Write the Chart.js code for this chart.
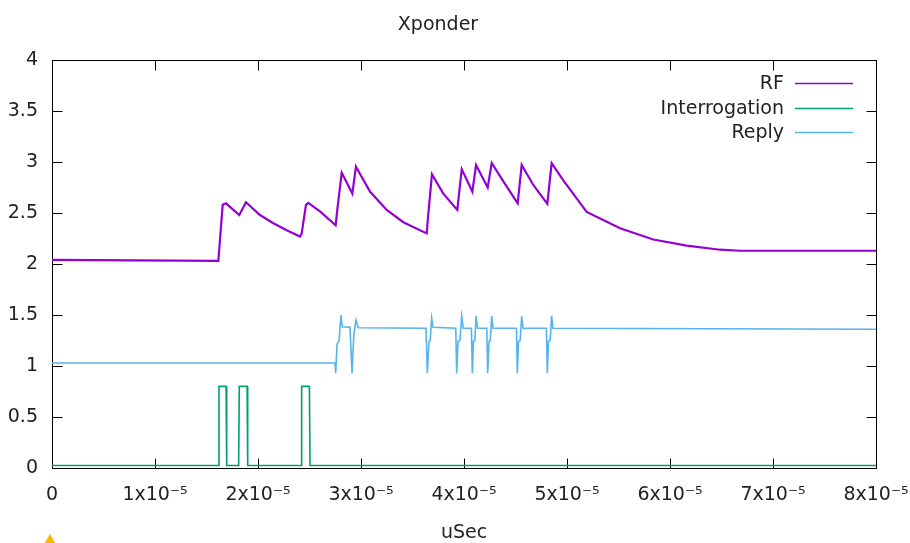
<!DOCTYPE html>
<html>
<head>
<meta charset="utf-8">
<title>Xponder</title>
<script src="https://cdn.jsdelivr.net/npm/chart.js@4.4.1/dist/chart.umd.min.js"></script>
<style>
html,body{margin:0;padding:0;background:#fff;}
#wrap{position:relative;width:910px;height:543px;overflow:hidden;}
#warn{position:absolute;left:43px;top:534px;width:0;height:0;border-left:7px solid transparent;border-right:7px solid transparent;border-bottom:12px solid #f7b900;}
</style>
</head>
<body>
<div id="wrap"><canvas id="c" width="910" height="543"></canvas><div id="warn"></div></div>
<script>
// time values are in units of 1e-5 s
const X_UNIT = 1e-5;
const xTicks = [0,1,2,3,4,5,6,7,8];
const xTickLabels = ['0','1x10\u207B\u2075','2x10\u207B\u2075','3x10\u207B\u2075','4x10\u207B\u2075','5x10\u207B\u2075','6x10\u207B\u2075','7x10\u207B\u2075','8x10\u207B\u2075'];
const yTicks = [0,0.5,1,1.5,2,2.5,3,3.5,4];
const yTickLabels = ['0','0.5','1','1.5','2','2.5','3','3.5','4'];
const seriesNames = ['RF','Interrogation','Reply'];
const seriesColors = ['#9400d3','#009e73','#56b4e9'];

const rf = [
  [0,2.04],[1.615,2.03],[1.657,2.58],[1.689,2.595],[1.818,2.48],[1.883,2.605],
  [2.019,2.48],[2.149,2.40],[2.279,2.33],[2.408,2.27],[2.424,2.30],[2.466,2.58],[2.488,2.60],
  [2.602,2.515],[2.754,2.38],[2.772,2.55],[2.813,2.895],[2.916,2.69],[2.951,2.955],
  [3.087,2.71],[3.250,2.53],[3.411,2.41],[3.638,2.30],[3.650,2.45],[3.689,2.88],
  [3.799,2.69],[3.935,2.53],[3.978,2.93],[4.081,2.71],[4.117,2.97],[4.230,2.75],[4.269,2.99],
  [4.382,2.81],[4.521,2.595],[4.560,2.97],[4.673,2.775],[4.809,2.59],[4.851,2.99],
  [4.964,2.82],[5.191,2.51],[5.515,2.35],[5.838,2.24],[6.162,2.18],[6.485,2.14],[6.68,2.13],[8,2.13]
];
const interrogation = [
  [0,0.025],[1.615,0.025],[1.621,0.80],[1.690,0.80],[1.696,0.025],
  [1.812,0.025],[1.818,0.80],[1.894,0.80],[1.900,0.025],
  [2.418,0.025],[2.424,0.80],[2.499,0.80],[2.505,0.025],[8,0.025]
];
const reply = [
  [0,1.03],[2.748,1.03],[2.754,0.93],[2.768,1.22],[2.786,1.24],[2.806,1.50],[2.818,1.385],
  [2.893,1.38],[2.913,0.93],[2.930,1.30],[2.951,1.45],[2.974,1.375],
  [3.631,1.37],[3.644,0.93],[3.660,1.24],[3.672,1.25],[3.686,1.47],[3.699,1.38],
  [3.920,1.37],[3.929,0.93],[3.942,1.24],[3.960,1.25],[3.978,1.49],[3.993,1.37],
  [4.072,1.37],[4.081,0.93],[4.092,1.24],[4.105,1.25],[4.117,1.49],[4.131,1.37],
  [4.221,1.37],[4.230,0.93],[4.243,1.24],[4.255,1.25],[4.269,1.49],[4.282,1.37],
  [4.509,1.37],[4.518,0.93],[4.529,1.24],[4.545,1.25],[4.560,1.49],[4.573,1.37],
  [4.800,1.37],[4.809,0.93],[4.820,1.24],[4.836,1.25],[4.851,1.49],[4.864,1.37],
  [8,1.36]
];

const FONT = 'DejaVu Sans';
const TEXT = '#222';
const FS = 19;
const toXY = arr => arr.map(p=>({x:p[0]*X_UNIT, y:p[1]}));

// gnuplot style box with inward ticks
const frame = {
  id:'frame',
  beforeDatasetsDraw(chart){
    const {ctx, chartArea:a, scales:{x,y}} = chart;
    const L=Math.round(a.left)+0.5, R=Math.round(a.right)+0.5, T=Math.round(a.top)+0.5, B=Math.round(a.bottom)+0.5;
    ctx.save();
    ctx.strokeStyle='#000'; ctx.lineWidth=1;
    ctx.beginPath();
    xTicks.forEach(v=>{
      const px=Math.round(x.getPixelForValue(v*X_UNIT))+0.5;
      ctx.moveTo(px,B); ctx.lineTo(px,B-10);
      ctx.moveTo(px,T); ctx.lineTo(px,T+10);
    });
    yTicks.forEach(v=>{
      const py=Math.round(y.getPixelForValue(v))+0.5;
      ctx.moveTo(L,py); ctx.lineTo(L+10,py);
      ctx.moveTo(R,py); ctx.lineTo(R-10,py);
    });
    ctx.stroke();
    ctx.strokeRect(L,T,R-L,B-T);
    ctx.restore();
  }
};

// key in the top right corner: text first, sample line after
const keyBox = {
  id:'keyBox',
  afterDraw(chart){
    const {ctx, chartArea:a} = chart;
    ctx.save();
    ctx.font=FS+'px "'+FONT+'"'; ctx.textAlign='right'; ctx.textBaseline='middle';
    chart.data.datasets.forEach((ds,i)=>{
      const yy=Math.round(a.top+23+i*24.5)+0.5;
      ctx.fillStyle=TEXT;
      ctx.fillText(ds.label, a.right-92, yy+1);
      ctx.strokeStyle=ds.borderColor; ctx.lineWidth=1.5;
      ctx.beginPath(); ctx.moveTo(a.right-81,yy); ctx.lineTo(a.right-23,yy); ctx.stroke();
    });
    ctx.restore();
  }
};

const datasets = [rf, interrogation, reply].map((s,i)=>({
  label: seriesNames[i],
  data: toXY(s),
  borderColor: seriesColors[i],
  borderWidth: i===0 ? 2.2 : 1.6,
  pointRadius: 0,
  tension: 0,
  fill: false
}));

new Chart(document.getElementById('c'), {
  type:'line',
  data:{datasets},
  options:{
    responsive:false,
    animation:false,
    layout:{padding:{top:0,left:0,right:34,bottom:0}},
    plugins:{
      legend:{display:false},
      tooltip:{enabled:false},
      title:{display:true, text:'Xponder', color:TEXT, font:{family:FONT,size:FS,weight:'normal',lineHeight:1.2}, padding:{top:14,bottom:23.2}}
    },
    scales:{
      x:{
        type:'linear', min:0, max:8*X_UNIT,
        afterBuildTicks: s=>{ s.ticks = xTicks.map(v=>({value:v*X_UNIT})); },
        afterFit: s=>{ s.height = 75; s.paddingLeft = 0; s.paddingRight = 0; },
        grid:{display:false, drawTicks:false}, border:{display:false},
        ticks:{padding:16, color:TEXT, font:{family:FONT,size:FS}, maxRotation:0, autoSkip:false,
          callback:(v,i)=>xTickLabels[i]},
        title:{display:true, text:'uSec', color:TEXT, font:{family:FONT,size:FS,lineHeight:1}, padding:{top:0,bottom:0}}
      },
      y:{
        min:0, max:4,
        afterBuildTicks: s=>{ s.ticks = yTicks.map(v=>({value:v})); },
        afterFit: s=>{ s.width = 52; s.paddingTop = 0; s.paddingBottom = 0; },
        grid:{display:false, drawTicks:false}, border:{display:false},
        ticks:{padding:14, color:TEXT, font:{family:FONT,size:FS}, callback:(v,i)=>yTickLabels[i]}
      }
    }
  },
  plugins:[frame, keyBox]
});
</script>
</body>
</html>
